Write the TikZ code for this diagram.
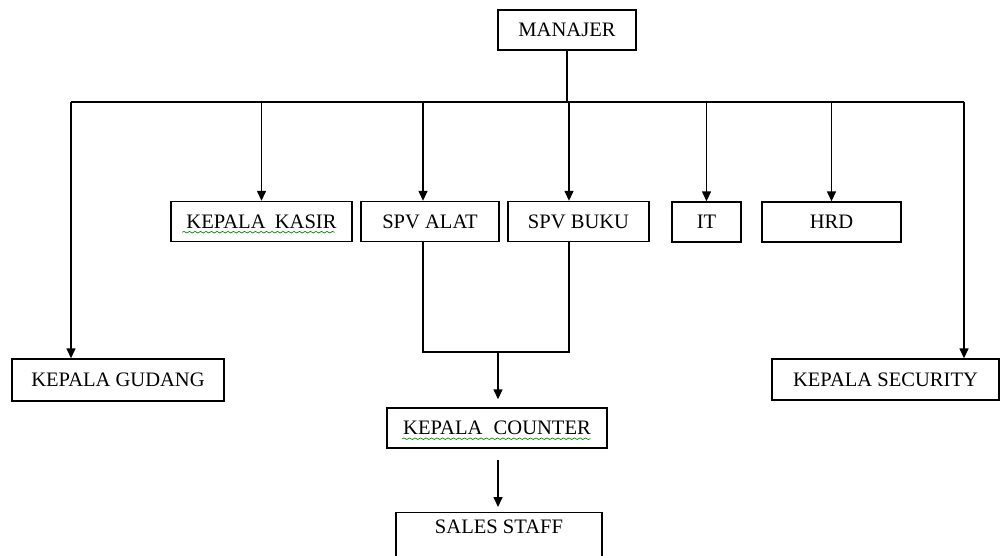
\documentclass[tikz,border=0pt]{standalone}
\usepackage{fontspec}
\setmainfont{Liberation Serif}
\usetikzlibrary{arrows.meta,positioning,calc,decorations.pathmorphing}

\begin{document}
\begin{tikzpicture}[x=0.02cm, y=-0.02cm, >={Triangle[length=2mm, width=1.8mm]}, line width=0.8pt,
  box/.style = {draw, rectangle, minimum height=0.8cm, inner sep=2pt, font=\fontsize{11.7}{13}\selectfont},
  squiggle/.style = {draw=green!55!black, line width=0.4pt, decorate, decoration={snake, amplitude=0.45pt, segment length=1.1mm}}]
  \useasboundingbox (0,0) rectangle (1000,555);
  \clip (0,0) rectangle (1000,555);

  % Nodes
  \node[box, minimum width=2.76cm] (manajer) at (567,30) {MANAJER};

  \node[box, minimum width=3.62cm] (kasir) at (261.5,221.5) {KEPALA\hspace{0.2em} KASIR};
  \node[box, minimum width=2.76cm] (alat) at (430,221.5) {SPV ALAT};
  \node[box, minimum width=2.82cm] (buku) at (578.5,221.5) {SPV BUKU};
  \node[box, minimum width=1.38cm] (it) at (706.5,222) {IT};
  \node[box, minimum width=2.78cm] (hrd) at (831.5,222) {HRD};

  \node[box, minimum width=4.24cm, minimum height=0.84cm] (gudang) at (118,380) {KEPALA GUDANG};
  \node[box, minimum width=4.54cm, minimum height=0.82cm] (security) at (885.5,379.5) {KEPALA SECURITY};

  \node[box, minimum width=4.4cm] (counter) at (497,428) {KEPALA\hspace{0.3em} COUNTER};
  \node[box, minimum width=4.12cm, anchor=north, inner sep=3pt, text height=9pt, text depth=14pt] (sales) at (499,512) {SALES STAFF};

  % Bus points
  \coordinate (busL) at (71,102);
  \coordinate (busR) at (964,102);
  \coordinate (alatx) at (423,102);
  \coordinate (bukux) at (569,102);
  \coordinate (join) at (498,352);

  % Paths
  \draw (manajer) -- (manajer |- busL);
  \draw (busL) -- (busR);
  \draw[->] (busL) -- (busL |- gudang.north);
  \draw[->] (busR) -- (busR |- security.north);
  \draw[->] (kasir |- busL) -- (kasir);
  \draw[->] (alatx) -- (alatx |- alat.north);
  \draw[->] (bukux) -- (bukux |- buku.north);
  \draw[->] (it |- busL) -- (it);
  \draw[->] (hrd |- busL) -- (hrd);

  \draw (alatx |- alat.south) -- (alatx |- join) -- (bukux |- join) -- (bukux |- buku.south);
  \draw[->, shorten >=1.6mm] (join) -- (join |- counter.north);
  \draw[->, shorten <=2.2mm, shorten >=1mm] (join |- counter.south) -- (join |- sales.north);

  % Spelling marks
  \draw[squiggle] ($(kasir.south west)+(12,-10)$) -- ($(kasir.south east)+(-18,-10)$);
  \draw[squiggle] ($(counter.south west)+(16,-10)$) -- ($(counter.south east)+(-17,-10)$);
\end{tikzpicture}
\end{document}
